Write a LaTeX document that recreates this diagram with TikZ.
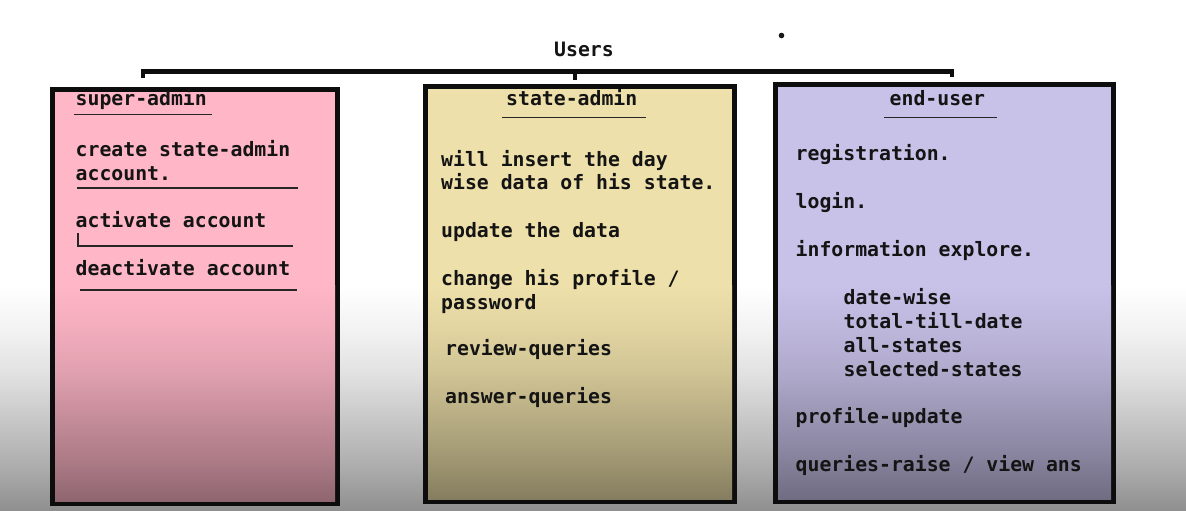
\documentclass[tikz,border=0pt]{standalone}
\usepackage{fontspec}
\newfontfamily\boxfont{DejaVu Sans Mono}

\definecolor{adminpink}{RGB}{255,182,199}
\definecolor{statesand}{RGB}{238,224,170}
\definecolor{userlilac}{RGB}{200,193,232}

\newcommand\dimshading[2]{%
    \pgfdeclareverticalshading{#1}{100bp}{color(0bp)=(#2!56!black); color(25bp)=(#2!56!black);
        color(35bp)=(#2!68!black); color(45bp)=(#2!78!black); color(55bp)=(#2!88!black);
        color(65bp)=(#2!95!black); color(75bp)=(#2); color(100bp)=(#2)}}
\dimshading{dimwhite}{white}
\dimshading{dimpink}{adminpink}
\dimshading{dimsand}{statesand}
\dimshading{dimlilac}{userlilac}

\tikzset{
    rolebox/.style={draw=black!95, line width=5pt, inner sep=0pt, outer sep=0pt},
    entry/.style={anchor=base west, inner sep=0pt, text=black!92,
        font=\boxfont\bfseries\fontsize{19.8}{24}\selectfont},
    bracket/.style={line width=4.5pt, draw=black!95},
    rule/.style={line width=1.3pt, draw=black!85}
}

\begin{document}
\begin{tikzpicture}[x=1pt,y=-1pt]
                \fill[white] (0,0) rectangle (1186,511);
                \useasboundingbox (0,0) rectangle (1186,511);
                \coordinate (fadetop) at (0,285);
                \shade[shading=dimwhite] (fadetop) rectangle (1186,511);

                \node[rolebox, fill=adminpink, minimum width=285pt, minimum height=414pt] (super) at (195,296.5) {};
                \node[rolebox, fill=statesand, minimum width=309pt, minimum height=415pt] (state) at (580,294) {};
                \node[rolebox, fill=userlilac, minimum width=338pt, minimum height=417pt] (enduser) at (944.5,293) {};

                \shade[shading=dimpink] ([xshift=2.5pt]super.west |- fadetop) rectangle ([xshift=-2.5pt,yshift=2.5pt]super.south east);
                \shade[shading=dimsand] ([xshift=2.5pt]state.west |- fadetop) rectangle ([xshift=-2.5pt,yshift=2.5pt]state.south east);
                \shade[shading=dimlilac] ([xshift=2.5pt]enduser.west |- fadetop) rectangle ([xshift=-2.5pt,yshift=2.5pt]enduser.south east);

                \node[entry] (users) at (554,56.5) {Users};
                \fill[black!90] (781.5,35.5) circle (2.8pt);

                \coordinate (bl) at (143,78);
                \coordinate (br) at (952,77);
                \coordinate (bm) at (575,71.5);
                \coordinate (bt) at (575,80);
                \draw[bracket] (bl) -- (bl |- bm) -- (br |- bm) -- (br);
                \draw[bracket] (bm) -- (bt);

                \node[entry] (super-title) at (75.5,106) {super-admin};
                \node[entry] (state-title) at (506,105) {state-admin};
                \node[entry] (enduser-title) at (889.5,105.5) {end-user};

                \foreach \y/\t [count=\i] in {156/create state-admin, 180/account., 227.5/activate account, 275.5/deactivate account}
                {
                    \node[entry] (sa\i) at (75.5,\y) {\t};
                }
                \foreach \x/\y/\t [count=\i] in {441/166/will insert the day, 441/189/wise data of his state., 441/237/update the data,
                    441/285/{change his profile /}, 441/309/password, 445/355.5/review-queries, 445/403.5/answer-queries}
                {
                    \node[entry] (st\i) at (\x,\y) {\t};
                }
                \foreach \x/\y/\t [count=\i] in {795.5/160/registration., 795.5/208/login., 795.5/256/information explore.,
                    843.5/304/date-wise, 843.5/328/total-till-date, 843.5/352/all-states, 843.5/376/selected-states,
                    795.5/423.5/profile-update, 795.5/471.5/{queries-raise / view ans}}
                {
                    \node[entry] (eu\i) at (\x,\y) {\t};
                }

                \draw[rule] (74,114.5) -- (212,114.5);
                \draw[rule] (77,188) -- (298,188);
                \draw[rule] (78,233) -- (78,246) -- (293,246);
                \draw[rule] (80,290) -- (297,290);
                \draw[rule] (502,117.3) -- (646,117.3);
                \draw[rule] (884,117.7) -- (997,117.7);
            \end{tikzpicture}
\end{document}
